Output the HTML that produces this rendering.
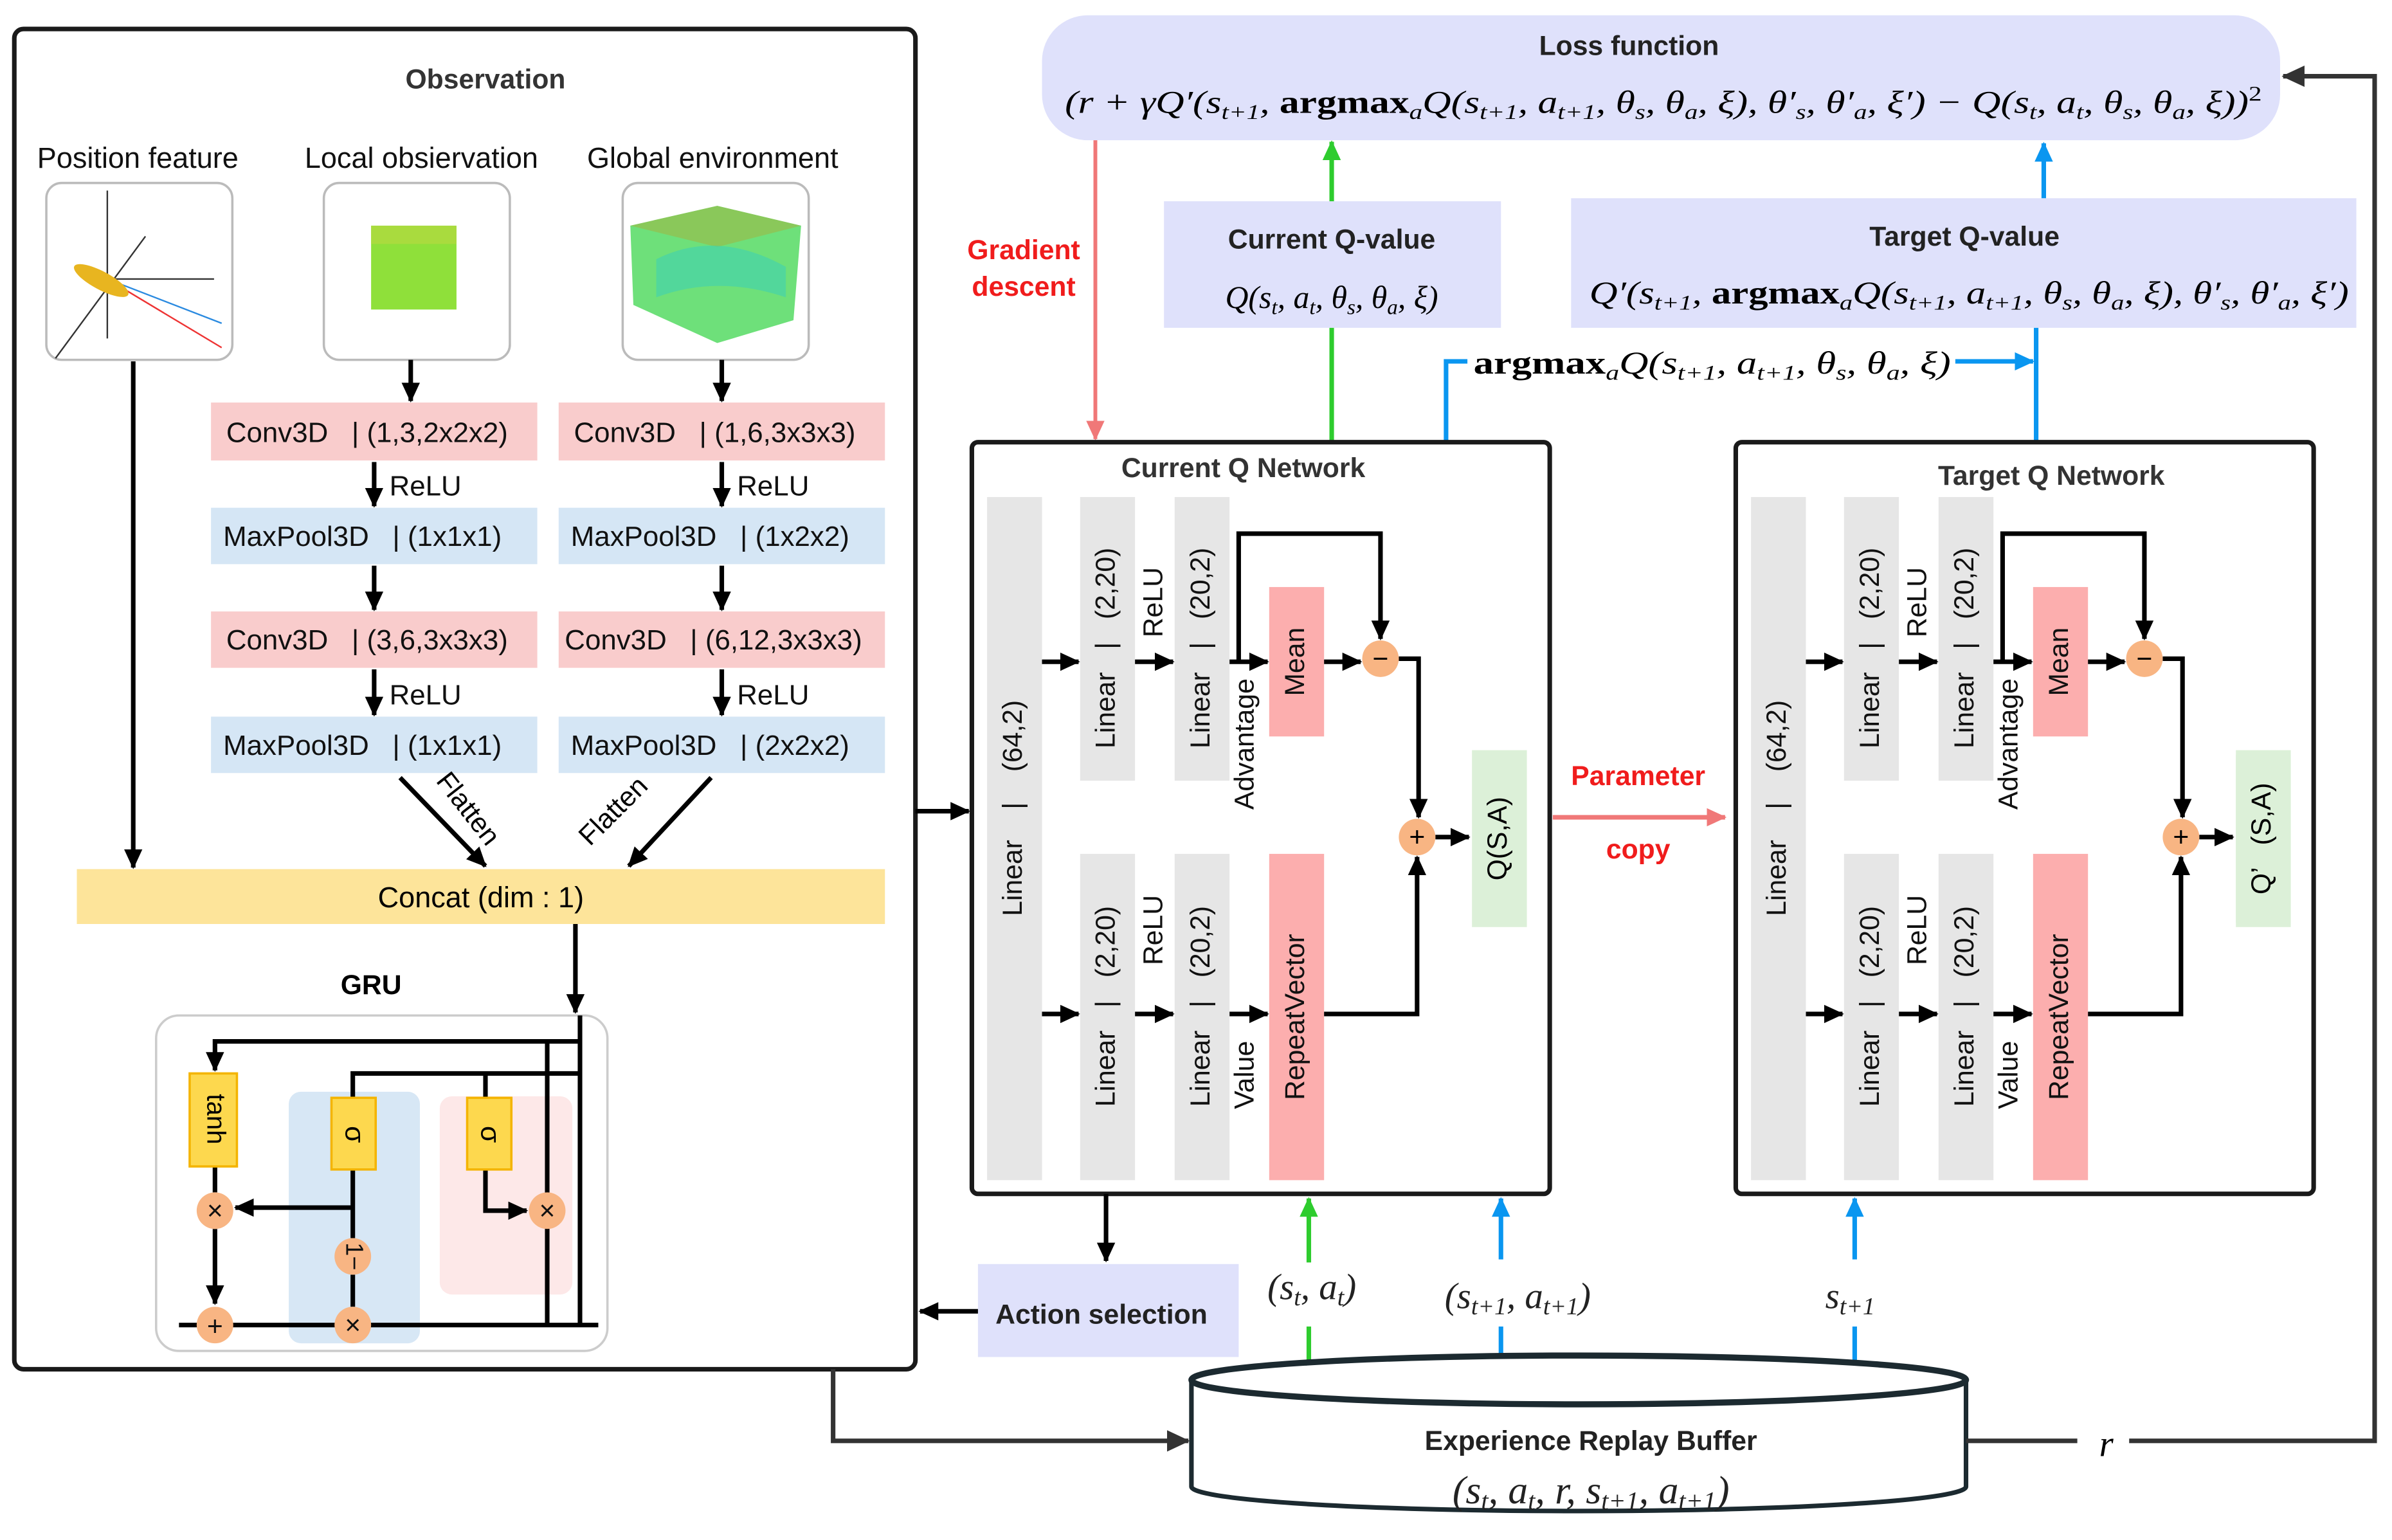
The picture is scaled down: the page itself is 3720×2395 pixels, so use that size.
<!DOCTYPE html>
<html><head><meta charset="utf-8"><style>html,body{margin:0;padding:0;background:#fff}svg{display:block}text{white-space:pre}</style></head>
<body>
<svg xmlns="http://www.w3.org/2000/svg" width="3720" height="2395" viewBox="0 0 1568 1010" font-family="'Liberation Sans', sans-serif" xml:space="preserve">
<defs>
<marker id="ak" markerUnits="userSpaceOnUse" markerWidth="14" markerHeight="14" refX="12" refY="7" orient="auto"><path d="M0,1 L13,7 L0,13 z" fill="#000"/></marker>
<marker id="ag" markerUnits="userSpaceOnUse" markerWidth="14" markerHeight="14" refX="12" refY="7" orient="auto"><path d="M0,1 L13,7 L0,13 z" fill="#2ecc2e"/></marker>
<marker id="ab" markerUnits="userSpaceOnUse" markerWidth="14" markerHeight="14" refX="12" refY="7" orient="auto"><path d="M0,1 L13,7 L0,13 z" fill="#0a96f0"/></marker>
<marker id="ar" markerUnits="userSpaceOnUse" markerWidth="14" markerHeight="14" refX="12" refY="7" orient="auto"><path d="M0,1 L13,7 L0,13 z" fill="#f07878"/></marker>
<marker id="ad" markerUnits="userSpaceOnUse" markerWidth="16" markerHeight="16" refX="14" refY="8" orient="auto"><path d="M0,1 L15,8 L0,15 z" fill="#333"/></marker>
</defs>
<rect x="9" y="19" width="591" height="879" rx="6" fill="#fff" stroke="#1a1a1a" stroke-width="3"/>
<text x="318" y="58" font-size="18" font-weight="bold" fill="#333" text-anchor="middle">Observation</text>
<g font-size="19" text-anchor="middle" fill="#111">
<text x="90" y="110">Position feature</text>
<text x="276" y="110">Local obsiervation</text>
<text x="467" y="110">Global environment</text>
</g>
<g fill="#fff" stroke="#bbb" stroke-width="1.5">
<rect x="30" y="120" width="122" height="116" rx="10"/>
<rect x="212" y="120" width="122" height="116" rx="10"/>
<rect x="408" y="120" width="122" height="116" rx="10"/>
</g>
<g stroke="#333" stroke-width="1" fill="none">
<line x1="70" y1="125" x2="70" y2="222"/>
<line x1="58" y1="183" x2="140" y2="183"/>
<line x1="36" y1="235" x2="95" y2="155"/>
<line x1="70" y1="183" x2="145" y2="228" stroke="#e33"/>
<line x1="70" y1="183" x2="145" y2="212" stroke="#2a8ae0"/>
</g>
<ellipse cx="66" cy="184" rx="20" ry="6" transform="rotate(28 66 184)" fill="#e8b520"/>
<rect x="243" y="148" width="56" height="55" fill="#8fe03a"/>
<rect x="243" y="148" width="56" height="12" fill="#b4d840" opacity="0.7"/>
<path d="M413,148 L470,135 L525,148 L520,210 L470,225 L415,200 z" fill="#6ee07a"/>
<path d="M413,148 L470,135 L525,148 L470,162 z" fill="#8ac85a"/>
<path d="M430,170 Q470,150 515,175 L515,195 Q470,180 430,195z" fill="#40d0b0" opacity="0.6"/>
<g font-size="18.5" fill="#111">
<rect x="138" y="264" width="214" height="38" fill="#f9cccc"/><text x="148" y="290">Conv3D   | (1,3,2x2x2)</text>
<rect x="366" y="264" width="214" height="38" fill="#f9cccc"/><text x="376" y="290">Conv3D   | (1,6,3x3x3)</text>
<rect x="138" y="333" width="214" height="37" fill="#d5e6f5"/><text x="146" y="358">MaxPool3D   | (1x1x1)</text>
<rect x="366" y="333" width="214" height="37" fill="#d5e6f5"/><text x="374" y="358">MaxPool3D   | (1x2x2)</text>
<rect x="138" y="401" width="214" height="37" fill="#f9cccc"/><text x="148" y="426">Conv3D   | (3,6,3x3x3)</text>
<rect x="366" y="401" width="214" height="37" fill="#f9cccc"/><text x="370" y="426">Conv3D   | (6,12,3x3x3)</text>
<rect x="138" y="470" width="214" height="37" fill="#d5e6f5"/><text x="146" y="495">MaxPool3D   | (1x1x1)</text>
<rect x="366" y="470" width="214" height="37" fill="#d5e6f5"/><text x="374" y="495">MaxPool3D   | (2x2x2)</text>
<text x="255" y="325">ReLU</text><text x="483" y="325">ReLU</text>
<text x="255" y="462">ReLU</text><text x="483" y="462">ReLU</text>
</g>
<g stroke="#000" stroke-width="3" marker-end="url(#ak)">
<line x1="269" y1="236" x2="269" y2="263"/>
<line x1="473" y1="236" x2="473" y2="263"/>
<line x1="245" y1="303" x2="245" y2="332"/>
<line x1="473" y1="303" x2="473" y2="332"/>
<line x1="245" y1="371" x2="245" y2="400"/>
<line x1="473" y1="371" x2="473" y2="400"/>
<line x1="245" y1="439" x2="245" y2="469"/>
<line x1="473" y1="439" x2="473" y2="469"/>
<line x1="87" y1="237" x2="87" y2="569"/>
<line x1="262" y1="510" x2="318" y2="568"/>
<line x1="466" y1="510" x2="412" y2="568"/>
</g>
<text x="302" y="534" font-size="18" transform="rotate(52 302 534)" text-anchor="middle">Flatten</text>
<text x="406" y="536" font-size="18" transform="rotate(-45 406 536)" text-anchor="middle">Flatten</text>
<rect x="50" y="570" width="530" height="36" fill="#fde49a"/>
<text x="315" y="595" font-size="19" text-anchor="middle">Concat (dim : 1)</text>
<text x="243" y="652" font-size="18" font-weight="bold" text-anchor="middle">GRU</text>
<line x1="377" y1="606" x2="377" y2="664" stroke="#000" stroke-width="3" marker-end="url(#ak)"/>
<rect x="102" y="666" width="296" height="220" rx="15" fill="#fff" stroke="#ccc" stroke-width="1.5"/>
<rect x="189" y="716" width="86" height="165" rx="8" fill="#d7e7f5"/>
<rect x="288" y="719" width="87" height="130" rx="8" fill="#fde8e8"/>
<g stroke="#000" stroke-width="3" fill="none">
<polyline points="380,666 380,869"/>
<line x1="117" y1="869" x2="392" y2="869"/>
<polyline points="380,683 140.6,683 140.6,702" marker-end="url(#ak)"/>
<polyline points="380,704 231,704 231,720"/>
<line x1="318" y1="704" x2="318" y2="720"/>
<line x1="358.5" y1="683" x2="358.5" y2="869"/>
<line x1="140.6" y1="765" x2="140.6" y2="782"/>
<line x1="140.6" y1="806" x2="140.6" y2="855" marker-end="url(#ak)"/>
<line x1="231" y1="767" x2="231" y2="812"/>
<line x1="231" y1="836" x2="231" y2="857"/>
<line x1="231" y1="792" x2="154" y2="792" marker-end="url(#ak)"/>
<polyline points="318,767 318,794 345,794" marker-end="url(#ak)"/>
</g>
<g fill="#fdd84e" stroke="#f4b400" stroke-width="1.5">
<rect x="124" y="704" width="31" height="61"/>
<rect x="217" y="720" width="29" height="47"/>
<rect x="306" y="720" width="29" height="47"/>
</g>
<text x="140" y="734" font-size="17" transform="rotate(90 140 734)" text-anchor="middle" dominant-baseline="middle">tanh</text>
<text x="231" y="744" font-size="18" transform="rotate(90 231 744)" text-anchor="middle" dominant-baseline="middle">σ</text>
<text x="320" y="744" font-size="18" transform="rotate(90 320 744)" text-anchor="middle" dominant-baseline="middle">σ</text>
<g fill="#f8b583">
<circle cx="140.6" cy="794" r="12"/><circle cx="231" cy="824" r="12"/><circle cx="231" cy="869" r="12"/><circle cx="140.6" cy="869" r="12"/><circle cx="358.5" cy="794" r="12"/>
</g>
<g font-size="18" text-anchor="middle" fill="#111">
<text x="140.6" y="800">×</text><text x="231" y="875">×</text><text x="358.5" y="800">×</text><text x="140.6" y="876">+</text>
<text x="231" y="824" transform="rotate(90 231 824)" dominant-baseline="middle" font-size="16">1−</text>
</g>
<rect x="683" y="10" width="812" height="82" rx="30" fill="#dfe1fb"/>
<text x="1068" y="36" font-size="18" font-weight="bold" fill="#222" text-anchor="middle">Loss function</text>
<text x="698" y="74" font-size="21" font-family="'Liberation Serif', serif" font-style="italic" textLength="785" lengthAdjust="spacingAndGlyphs">(r + γQ′(s<tspan font-size="14" dy="4">t+1</tspan><tspan dy="-4">, </tspan><tspan font-weight="bold" font-style="normal">argmax</tspan><tspan font-size="14" dy="4">a</tspan><tspan dy="-4">Q(s</tspan><tspan font-size="14" dy="4">t+1</tspan><tspan dy="-4">, a</tspan><tspan font-size="14" dy="4">t+1</tspan><tspan dy="-4">, θ</tspan><tspan font-size="14" dy="4">s</tspan><tspan dy="-4">, θ</tspan><tspan font-size="14" dy="4">a</tspan><tspan dy="-4">, ξ), θ′</tspan><tspan font-size="14" dy="4">s</tspan><tspan dy="-4">, θ′</tspan><tspan font-size="14" dy="4">a</tspan><tspan dy="-4">, ξ′) − Q(s</tspan><tspan font-size="14" dy="4">t</tspan><tspan dy="-4">, a</tspan><tspan font-size="14" dy="4">t</tspan><tspan dy="-4">, θ</tspan><tspan font-size="14" dy="4">s</tspan><tspan dy="-4">, θ</tspan><tspan font-size="14" dy="4">a</tspan><tspan dy="-4">, ξ))</tspan><tspan font-size="14" dy="-8" font-style="normal">2</tspan></text>
<rect x="763" y="132" width="221" height="83" fill="#dfe1fb"/>
<text x="873" y="163" font-size="18" font-weight="bold" fill="#222" text-anchor="middle">Current Q-value</text>
<text x="873" y="202" font-size="21" font-family="'Liberation Serif', serif" font-style="italic" text-anchor="middle">Q(s<tspan font-size="14" dy="4">t</tspan><tspan dy="-4">, a</tspan><tspan font-size="14" dy="4">t</tspan><tspan dy="-4">, θ</tspan><tspan font-size="14" dy="4">s</tspan><tspan dy="-4">, θ</tspan><tspan font-size="14" dy="4">a</tspan><tspan dy="-4">, ξ)</tspan></text>
<rect x="1030" y="130" width="515" height="85" fill="#dfe1fb"/>
<text x="1288" y="161" font-size="18" font-weight="bold" fill="#222" text-anchor="middle">Target Q-value</text>
<text x="1042" y="199" font-size="21" font-family="'Liberation Serif', serif" font-style="italic" textLength="498" lengthAdjust="spacingAndGlyphs">Q′(s<tspan font-size="14" dy="4">t+1</tspan><tspan dy="-4">, </tspan><tspan font-weight="bold" font-style="normal">argmax</tspan><tspan font-size="14" dy="4">a</tspan><tspan dy="-4">Q(s</tspan><tspan font-size="14" dy="4">t+1</tspan><tspan dy="-4">, a</tspan><tspan font-size="14" dy="4">t+1</tspan><tspan dy="-4">, θ</tspan><tspan font-size="14" dy="4">s</tspan><tspan dy="-4">, θ</tspan><tspan font-size="14" dy="4">a</tspan><tspan dy="-4">, ξ), θ′</tspan><tspan font-size="14" dy="4">s</tspan><tspan dy="-4">, θ′</tspan><tspan font-size="14" dy="4">a</tspan><tspan dy="-4">, ξ′)</tspan></text>
<line x1="718" y1="92" x2="718" y2="288" stroke="#f07878" stroke-width="2.5" marker-end="url(#ar)"/>
<text x="671" y="170" font-size="18" font-weight="bold" fill="#f01c1c" text-anchor="middle">Gradient</text>
<text x="671" y="194" font-size="18" font-weight="bold" fill="#f01c1c" text-anchor="middle">descent</text>
<line x1="873" y1="290" x2="873" y2="215" stroke="#2ecc2e" stroke-width="3"/>
<line x1="873" y1="132" x2="873" y2="93" stroke="#2ecc2e" stroke-width="3" marker-end="url(#ag)"/>
<polyline points="948,290 948,237 962,237" fill="none" stroke="#0a96f0" stroke-width="3"/>
<line x1="1282" y1="237" x2="1333" y2="237" stroke="#0a96f0" stroke-width="3" marker-end="url(#ab)"/>
<line x1="1335" y1="290" x2="1335" y2="215" stroke="#0a96f0" stroke-width="3"/>
<line x1="1340" y1="130" x2="1340" y2="94" stroke="#0a96f0" stroke-width="3" marker-end="url(#ab)"/>
<text x="966" y="245" font-size="21" font-family="'Liberation Serif', serif" font-style="italic" textLength="313" lengthAdjust="spacingAndGlyphs"><tspan font-weight="bold" font-style="normal">argmax</tspan><tspan font-size="14" dy="4">a</tspan><tspan dy="-4">Q(s</tspan><tspan font-size="14" dy="4">t+1</tspan><tspan dy="-4">, a</tspan><tspan font-size="14" dy="4">t+1</tspan><tspan dy="-4">, θ</tspan><tspan font-size="14" dy="4">s</tspan><tspan dy="-4">, θ</tspan><tspan font-size="14" dy="4">a</tspan><tspan dy="-4">, ξ)</tspan></text>
<g id="net">
<rect x="637" y="290" width="379" height="493" rx="4" fill="#fff" stroke="#1a1a1a" stroke-width="3"/>
<g fill="#e6e6e6">
<rect x="647" y="326" width="36" height="448"/>
<rect x="708" y="326" width="36" height="186"/><rect x="770" y="326" width="36" height="186"/>
<rect x="708" y="560" width="36" height="214"/><rect x="770" y="560" width="36" height="214"/>
</g>
<rect x="832" y="385" width="36" height="98" fill="#fcaeae"/>
<rect x="832" y="560" width="36" height="214" fill="#fcaeae"/>
<rect x="965" y="492" width="36" height="116" fill="#dcf0d8"/>
<g font-size="18" fill="#111" text-anchor="middle" dominant-baseline="middle">
<text transform="translate(665 530) rotate(-90)">Linear    |    (64,2)</text>
<text transform="translate(726 425) rotate(-90)">Linear   |   (2,20)</text>
<text transform="translate(788 425) rotate(-90)">Linear   |   (20,2)</text>
<text transform="translate(757 395) rotate(-90)">ReLU</text>
<text transform="translate(817 488) rotate(-90)">Advantage</text>
<text transform="translate(850 434) rotate(-90)">Mean</text>
<text transform="translate(726 660) rotate(-90)">Linear   |   (2,20)</text>
<text transform="translate(788 660) rotate(-90)">Linear   |   (20,2)</text>
<text transform="translate(757 610) rotate(-90)">ReLU</text>
<text transform="translate(817 705) rotate(-90)">Value</text>
<text transform="translate(850 667) rotate(-90)">RepeatVector</text>
</g>
<g stroke="#000" stroke-width="3" fill="none" marker-end="url(#ak)">
<line x1="683" y1="434" x2="707" y2="434"/><line x1="744" y1="434" x2="769" y2="434"/><line x1="806" y1="434" x2="831" y2="434"/>
<line x1="868" y1="434" x2="892" y2="434"/>
<polyline points="812,434 812,350 905,350 905,419"/>
<polyline points="917,432 930,432 930,536"/>
<line x1="683" y1="665" x2="707" y2="665"/><line x1="744" y1="665" x2="769" y2="665"/><line x1="806" y1="665" x2="831" y2="665"/>
<polyline points="868,665 929,665 929,562"/>
<line x1="941" y1="549" x2="963" y2="549"/>
</g>
<circle cx="905" cy="432" r="12" fill="#f8b583"/><text x="905" y="438" font-size="18" text-anchor="middle">−</text>
<circle cx="929" cy="549" r="12" fill="#f8b583"/><text x="929" y="555" font-size="18" text-anchor="middle">+</text>
</g>
<text x="815" y="313" font-size="18" font-weight="bold" fill="#333" text-anchor="middle">Current Q Network</text>
<text transform="translate(983 550) rotate(-90)" font-size="18" text-anchor="middle" dominant-baseline="middle">Q(S,A)</text>
<use href="#net" transform="translate(501 0)"/>
<rect x="1466" y="495" width="36" height="110" fill="#dcf0d8"/>
<text transform="translate(1484 550) rotate(-90)" font-size="18" text-anchor="middle" dominant-baseline="middle">Q’   (S,A)</text>
<text x="1345" y="318" font-size="18" font-weight="bold" fill="#333" text-anchor="middle">Target Q Network</text>
<line x1="600" y1="532" x2="635" y2="532" stroke="#000" stroke-width="3" marker-end="url(#ak)"/>
<line x1="1018" y1="536" x2="1131" y2="536" stroke="#f07878" stroke-width="3" marker-end="url(#ar)"/>
<text x="1074" y="515" font-size="18" font-weight="bold" fill="#f01c1c" text-anchor="middle">Parameter</text>
<text x="1074" y="563" font-size="18" font-weight="bold" fill="#f01c1c" text-anchor="middle">copy</text>
<line x1="725" y1="783" x2="725" y2="827" stroke="#000" stroke-width="3" marker-end="url(#ak)"/>
<rect x="641" y="829" width="171" height="61" fill="#dfe1fb"/>
<text x="722" y="868" font-size="18" font-weight="bold" fill="#222" text-anchor="middle">Action selection</text>
<line x1="641" y1="860" x2="603" y2="860" stroke="#000" stroke-width="3" marker-end="url(#ak)"/>
<line x1="858" y1="897" x2="858" y2="870" stroke="#2ecc2e" stroke-width="3"/>
<line x1="858" y1="828" x2="858" y2="786" stroke="#2ecc2e" stroke-width="3" marker-end="url(#ag)"/>
<line x1="984" y1="895" x2="984" y2="870" stroke="#0a96f0" stroke-width="3"/>
<line x1="984" y1="826" x2="984" y2="786" stroke="#0a96f0" stroke-width="3" marker-end="url(#ab)"/>
<line x1="1216" y1="895" x2="1216" y2="870" stroke="#0a96f0" stroke-width="3"/>
<line x1="1216" y1="826" x2="1216" y2="786" stroke="#0a96f0" stroke-width="3" marker-end="url(#ab)"/>
<g font-family="'Liberation Serif', serif" font-style="italic" font-size="24" text-anchor="middle" fill="#222">
<text x="860" y="852">(s<tspan font-size="16" dy="4">t</tspan><tspan dy="-4">, a</tspan><tspan font-size="16" dy="4">t</tspan><tspan dy="-4">)</tspan></text>
<text x="995" y="858">(s<tspan font-size="16" dy="4">t+1</tspan><tspan dy="-4">, a</tspan><tspan font-size="16" dy="4">t+1</tspan><tspan dy="-4">)</tspan></text>
<text x="1213" y="858">s<tspan font-size="16" dy="4">t+1</tspan></text>
</g>
<path d="M781,905 L781,975 A254,16 0 0 0 1289,975 L1289,905" fill="#fff" stroke="#1c2a30" stroke-width="3"/>
<ellipse cx="1035" cy="905" rx="254" ry="16" fill="#fff" stroke="#1c2a30" stroke-width="4"/>
<text x="1043" y="951" font-size="18" font-weight="bold" fill="#222" text-anchor="middle">Experience Replay Buffer</text>
<text x="1043" y="986" font-size="26" font-family="'Liberation Serif', serif" font-style="italic" text-anchor="middle" fill="#222">(s<tspan font-size="17" dy="4">t</tspan><tspan dy="-4">, a</tspan><tspan font-size="17" dy="4">t</tspan><tspan dy="-4">, r, s</tspan><tspan font-size="17" dy="4">t+1</tspan><tspan dy="-4">, a</tspan><tspan font-size="17" dy="4">t+1</tspan><tspan dy="-4">)</tspan></text>
<polyline points="546,898 546,945 779,945" fill="none" stroke="#333" stroke-width="3" marker-end="url(#ad)"/>
<line x1="1289" y1="945" x2="1362" y2="945" stroke="#333" stroke-width="3"/>
<text x="1381" y="955" font-size="24" font-family="'Liberation Serif', serif" font-style="italic" text-anchor="middle">r</text>
<polyline points="1396,945 1557,945 1557,50 1497,50" fill="none" stroke="#333" stroke-width="3" marker-end="url(#ad)"/>
</svg>
</body></html>
